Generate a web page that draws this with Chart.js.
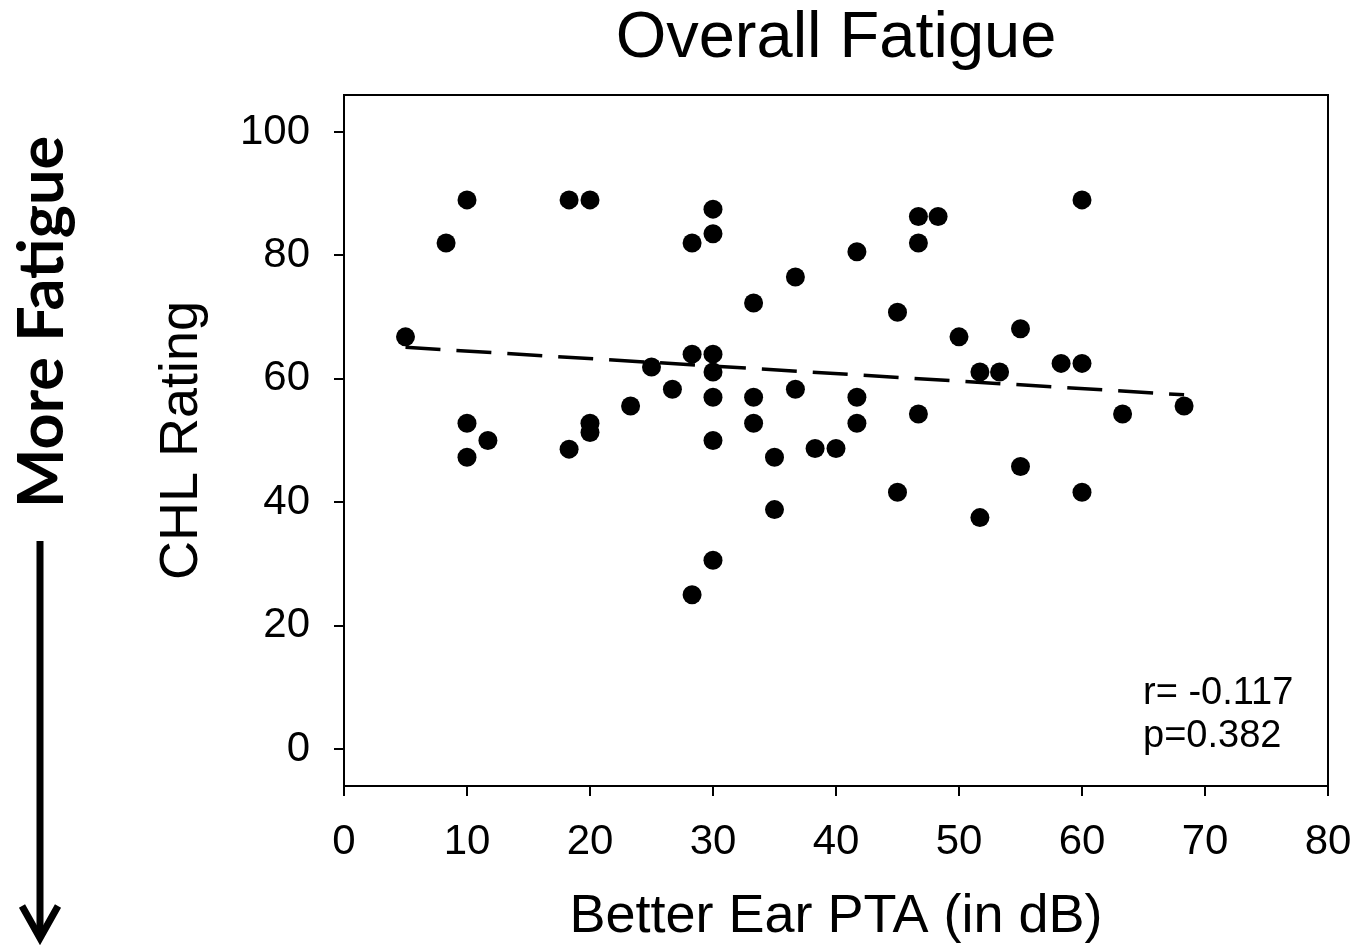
<!DOCTYPE html>
<html>
<head>
<meta charset="utf-8">
<title>Overall Fatigue</title>
<script src="https://cdn.jsdelivr.net/npm/chart.js@4.4.1/dist/chart.umd.min.js"></script>
<style>
  html, body { margin: 0; padding: 0; background: #fff; }
  canvas { display: block; }
</style>
</head>
<body>
<canvas id="chart" width="1355" height="950"></canvas>
<script>
// better ear PTA (dB) and CHL rating for each participant
const pta = [5, 8.3, 10, 10, 10, 11.7, 18.3, 20, 18.3, 20, 20, 23.3, 25, 26.7,
  28.3, 28.3, 28.3, 30, 30, 30, 30, 30, 30, 30, 33.3, 33.3, 33.3, 35, 35,
  36.7, 36.7, 38.3, 40, 41.7, 41.7, 41.7, 45, 45, 46.7, 46.7, 46.7, 48.3,
  50, 51.7, 51.7, 53.3, 55, 55, 58.3, 60, 60, 60, 63.3, 68.3];
const chl = [66.8, 82.0, 89.0, 52.8, 47.3, 50.0, 89.0, 89.0, 48.6, 52.8, 51.3, 55.6, 61.9, 58.3,
  82.0, 64.0, 25.0, 87.5, 83.5, 64.0, 61.1, 57.0, 50.0, 30.6, 72.3, 57.0, 52.8, 47.3, 38.8,
  76.5, 58.3, 48.7, 48.7, 80.6, 57.0, 52.8, 70.8, 41.6, 86.3, 82.0, 54.3, 86.3,
  66.8, 61.1, 37.5, 61.1, 68.1, 45.8, 62.5, 62.5, 89.0, 41.6, 54.3, 55.6];

// regression line end points
const trendX = [5, 68.3];
const trendY = [65.1, 57.4];

const xTicks = [0, 10, 20, 30, 40, 50, 60, 70, 80];
const yTicks = [0, 20, 40, 60, 80, 100];

const statLines = ['r= -0.117', 'p=0.382'];
const sideLabel = 'More Fatigue';

const FONT = "'Liberation Sans', Arial, sans-serif";

const extras = {
  id: 'extras',
  afterDraw(chart) {
    const {ctx, chartArea: a} = chart;
    ctx.save();
    // box around the plot
    ctx.strokeStyle = '#000';
    ctx.lineWidth = 2;
    ctx.strokeRect(a.left, a.top, a.right - a.left, a.bottom - a.top);

    // r / p note
    ctx.fillStyle = '#000';
    ctx.font = '38px ' + FONT;
    ctx.textAlign = 'left';
    ctx.textBaseline = 'alphabetic';
    ctx.fillText(statLines[0], 1143, 704);
    ctx.fillText(statLines[1], 1143, 747);

    // side label + arrow
    ctx.save();
    ctx.translate(63, 322);
    ctx.rotate(-Math.PI / 2);
    ctx.font = "bold 63px Lato, 'Open Sans', sans-serif";
    ctx.textAlign = 'center';
    ctx.fillText(sideLabel, 0, 0);
    ctx.restore();

    ctx.lineWidth = 7;
    ctx.lineCap = 'butt';
    ctx.beginPath();
    ctx.moveTo(40, 541);
    ctx.lineTo(40, 938);
    ctx.stroke();
    ctx.beginPath();
    ctx.moveTo(22, 906);
    ctx.lineTo(40, 938);
    ctx.lineTo(58, 906);
    ctx.stroke();
    ctx.restore();
  }
};

const points = pta.map((x, i) => ({x, y: chl[i]}));
const trend = trendX.map((x, i) => ({x, y: trendY[i]}));

new Chart(document.getElementById('chart').getContext('2d'), {
  type: 'scatter',
  data: {
    datasets: [
      {
        label: 'CHL',
        data: points,
        backgroundColor: '#000',
        borderColor: '#000',
        borderWidth: 0,
        pointRadius: 9.5,
        pointHoverRadius: 9.5
      },
      {
        type: 'line',
        label: 'trend',
        data: trend,
        borderColor: '#000',
        borderWidth: 3.5,
        borderDash: [35, 16],
        pointRadius: 0,
        fill: false
      }
    ]
  },
  options: {
    responsive: false,
    animation: false,
    events: [],
    layout: {padding: {left: 120, right: 27, top: 0, bottom: 0}},
    plugins: {
      legend: {display: false},
      tooltip: {enabled: false},
      title: {
        display: true,
        text: 'Overall Fatigue',
        fullSize: false,
        color: '#000',
        font: {family: FONT, size: 65, weight: 'normal'},
        padding: {top: 0, bottom: 17}
      }
    },
    scales: {
      x: {
        type: 'linear',
        min: 0,
        max: 80,
        afterBuildTicks: s => { s.ticks = xTicks.map(v => ({value: v})); },
        afterFit: s => { s.height = 164; s.paddingLeft = 0; s.paddingRight = 0; },
        grid: {drawOnChartArea: false, drawTicks: true, tickLength: 10, color: '#000', lineWidth: 2},
        border: {display: true, color: '#000', width: 2},
        ticks: {color: '#000', font: {family: FONT, size: 42}, padding: 21, maxRotation: 0},
        title: {display: true, text: 'Better Ear PTA (in dB)', color: '#000',
          font: {family: FONT, size: 54}, padding: {top: 0, bottom: 0}}
      },
      y: {
        type: 'linear',
        min: -6,
        max: 106,
        afterBuildTicks: s => { s.ticks = yTicks.map(v => ({value: v})); },
        afterFit: s => { s.width = 224; s.paddingTop = 0; s.paddingBottom = 0; },
        grid: {drawOnChartArea: false, drawTicks: true, tickLength: 10, color: '#000', lineWidth: 2},
        border: {display: true, color: '#000', width: 2},
        ticks: {color: '#000', font: {family: FONT, size: 42}, padding: 24},
        title: {display: true, text: 'CHL Rating', color: '#000',
          font: {family: FONT, size: 54}, padding: {top: 30, bottom: 0}}
      }
    }
  },
  plugins: [extras]
});
</script>
</body>
</html>
